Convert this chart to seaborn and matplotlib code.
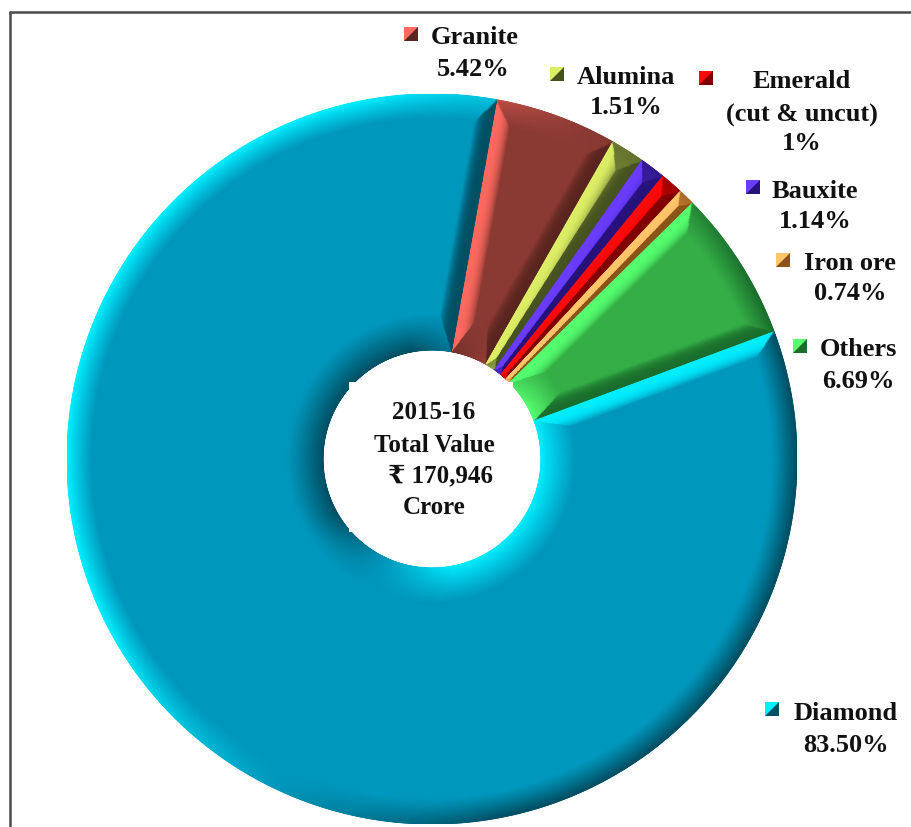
import numpy as np
import matplotlib
matplotlib.use("Agg")
import matplotlib.pyplot as plt
from matplotlib.colors import to_rgb
from matplotlib.patches import Polygon, Rectangle
from matplotlib.lines import Line2D
import seaborn as sns

# ---- data ----
categories = ["Granite", "Alumina", "Bauxite", "Emerald", "Iron ore", "Others", "Diamond"]
shares = [5.42, 1.51, 1.14, 1.00, 0.74, 6.69, 83.50]
base_colors = ["#8A3A33", "#6F7F33", "#3A1E9E", "#C00000", "#D4883A", "#35AE47", "#0097BC"]
light_colors = ["#FF6A60", "#DDEE66", "#6A3DFF", "#FF0A0A", "#FFC56A", "#55FF70", "#00EEFF"]
dark_colors = ["#5A2520", "#465220", "#26127A", "#800000", "#8A5418", "#1A6E2C", "#004F63"]
label_lines = ["Granite", "5.42%", "Alumina", "1.51%", "Emerald", "(cut & uncut)", "1%",
               "Bauxite", "1.14%", "Iron ore", "0.74%", "Others", "6.69%", "Diamond", "83.50%"]
label_xy = [(475, 38), (473, 69), (626, 77), (626, 108), (802, 82), (802, 115), (802, 144),
            (815, 191), (815, 222), (850, 263), (850, 294), (858, 350), (858, 382),
            (846, 713), (846, 746)]
key_xy = [(411, 35), (557, 75), (753, 188), (706, 79), (783, 261), (800, 347), (772, 710)]
center_lines = ["2015-16", "Total Value", "\u20b9 170,946", "Crore"]
center_xy = [(434, 413), (434, 445), (441, 476), (434, 508)]

W, H = 911, 828
CX, CY, R_PX, R_IN_PX = 432, 460, 365, 109

sns.set_theme(style="white")
plt.rcParams["font.family"] = ["Liberation Serif", "DejaVu Serif"]

fig = plt.figure(figsize=(W / 100, H / 100), dpi=100, facecolor="white")
ax = fig.add_axes([(CX - R_PX) / W, 1 - (CY + R_PX) / H, 2 * R_PX / W, 2 * R_PX / H])
palette = sns.color_palette(base_colors)
r_in = R_IN_PX / R_PX
wedges, _ = ax.pie(shares, colors=palette, startangle=79.8, counterclock=False, radius=1,
                   wedgeprops=dict(width=1 - r_in, linewidth=0))
ax.set_xlim(-1, 1)
ax.set_ylim(-1, 1)
ax.set_aspect("equal")
ax.axis("off")

# bevel shading, derived from each pie wedge's own angles
LIGHT = np.array([-0.9, 0.42])
LIGHT = LIGHT / np.linalg.norm(LIGHT)
W_OUT, W_IN, W_SIDE = 25 / R_PX, 36 / R_PX, 18 / R_PX
GAIN = 1.7


def lit(angle):
    return np.clip((np.cos(angle) * LIGHT[0] + np.sin(angle) * LIGHT[1]) * GAIN, -1, 1)


for w, b, l, d in zip(wedges, base_colors, light_colors, dark_colors):
    b, l, d = (np.array(to_rgb(c)) for c in (b, l, d))
    t1, t2 = np.radians(w.theta1), np.radians(w.theta2)
    n_t = max(40, int(np.degrees(t2 - t1) / 0.25))
    rho, th = np.meshgrid(np.linspace(r_in, 1, 240), np.linspace(t1, t2, n_t), indexing="ij")
    d_start = rho * np.sin(np.minimum(t2 - th, np.pi / 2))
    d_end = rho * np.sin(np.minimum(th - t1, np.pi / 2))
    dist = np.stack([(1 - rho) / W_OUT, (rho - r_in) / W_IN, d_start / W_SIDE, d_end / W_SIDE])
    facet = dist.argmin(axis=0)
    near = np.clip(dist.min(axis=0), 0, 1)
    strength = np.stack([lit(th), lit(th + np.pi),
                         np.full_like(th, lit(t2 + np.pi / 2)), np.full_like(th, lit(t1 - np.pi / 2))])
    s = np.take_along_axis(strength, facet[None], axis=0)[0]
    # side facets stay fairly flat, the curved rims fade softly
    f = np.where(facet >= 2, 1 - near ** 3, (1 - near) ** 1.1)
    amt = (s * f)[..., None]
    rgb = b + np.clip(amt, 0, 1) * (l - b) + np.clip(-amt, 0, 1) * (d - b)
    ax.pcolormesh(rho * np.cos(th), rho * np.sin(th), np.clip(rgb, 0, 1),
                  shading="gouraud", rasterized=True, zorder=2)


def fx(x):
    return x / W


def fy(y):
    return 1 - y / H


# white text box behind the centre label
fig.add_artist(Rectangle((fx(349), fy(533)), 164 / W, 150 / H, transform=fig.transFigure,
                         facecolor="white", edgecolor="none", zorder=3))

# image frame
fig.add_artist(Line2D([fx(10), fx(10)], [0, fy(13)], color="#4a4a4a", lw=1.8, zorder=5))
fig.add_artist(Line2D([fx(10), 1], [fy(13), fy(13)], color="#4a4a4a", lw=1.8, zorder=5))

# legend keys: two-tone squares
S = 7
for (kx, ky), l, d in zip(key_xy, light_colors, dark_colors):
    fig.add_artist(Rectangle((fx(kx - S), fy(ky + S)), 2 * S / W, 2 * S / H, transform=fig.transFigure,
                             facecolor=d, edgecolor="none", zorder=5))
    fig.add_artist(Polygon([(fx(kx - S), fy(ky - S)), (fx(kx + S), fy(ky - S)), (fx(kx - S), fy(ky + S))],
                           closed=True, transform=fig.transFigure, facecolor=l, edgecolor="none", zorder=6))

for txt, (x, y) in zip(label_lines, label_xy):
    fig.text(fx(x), fy(y), txt, ha="center", va="center", fontsize=19, fontweight="bold",
             color="#111111", zorder=7)
for txt, (x, y) in zip(center_lines, center_xy):
    fig.text(fx(x), fy(y), txt, ha="center", va="center", fontsize=18, fontweight="bold",
             color="#111111", zorder=7)

fig.savefig("out.png", dpi=100, facecolor="white")
